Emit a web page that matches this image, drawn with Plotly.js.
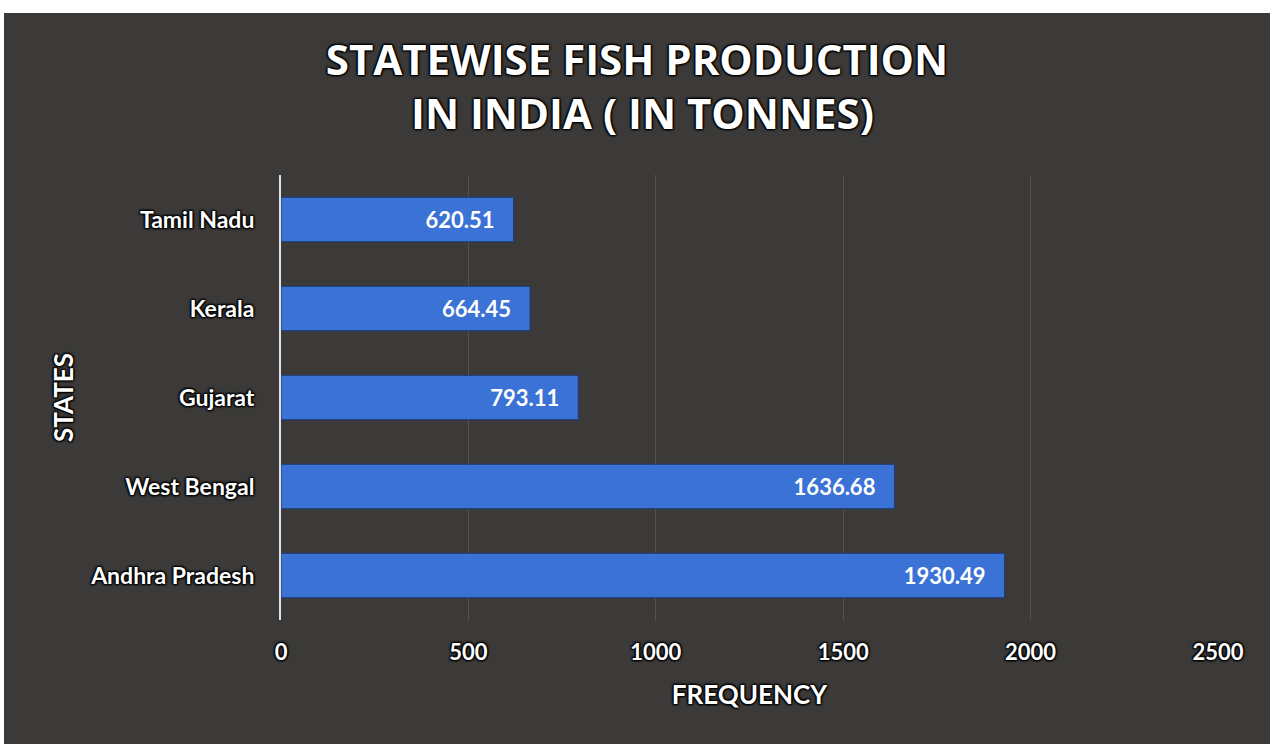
<!DOCTYPE html>
<html>
<head>
<meta charset="utf-8">
<script src="https://cdn.plot.ly/plotly-3.0.1.min.js"></script>
<style>
html,body{margin:0;padding:0;background:#ffffff;width:1270px;height:750px;overflow:hidden;}
#chart{position:absolute;left:4px;top:13px;width:1266px;height:731px;}
</style>
</head>
<body>
<div id="chart"></div>
<script>
const states = ["Andhra Pradesh", "West Bengal", "Gujarat", "Kerala", "Tamil Nadu"];
const production = [1930.49, 1636.68, 793.11, 664.45, 620.51];
const xTicks = [0, 500, 1000, 1500, 2000, 2500];

const shadow = "1px 1px 2px #000, -1px -1px 2px #000, 1px -1px 2px #000, -1px 1px 2px #000";
const plotTop = 162, plotH = 445;

const trace = {
  type: "bar",
  orientation: "h",
  y: states,
  x: production,
  marker: {color: "#3a72d6", line: {color: "#1d3a75", width: 1}},
  text: production.map(v => v.toFixed(2) + "\u00a0\u00a0\u00a0"),
  texttemplate: "%{text}",
  textposition: "inside",
  insidetextanchor: "end",
  textfont: {family: "Lato, 'Open Sans', sans-serif", size: 22, color: "#ffffff", weight: 700},
  hoverinfo: "skip",
  cliponaxis: false
};

const titleFont = {family: "'Open Sans', Lato, sans-serif", size: 42, color: "#ffffff", weight: 700, shadow: shadow};

const layout = {
  width: 1266,
  height: 731,
  paper_bgcolor: "#3b3a39",
  plot_bgcolor: "rgba(0,0,0,0)",
  margin: {l: 277, r: 52, t: plotTop, b: 124},
  bargap: 0.5,
  showlegend: false,
  title: {
    text: "STATEWISE FISH PRODUCTION",
    font: titleFont,
    x: 0.5, xanchor: "center", xref: "container",
    y: 1 - 47/731, yanchor: "middle", yref: "container"
  },
  annotations: [{
    text: "IN INDIA ( IN TONNES)",
    xref: "paper", yref: "paper", x: (642 - 281) / 937, y: 1 + (plotTop - 100) / plotH,
    xanchor: "center", yanchor: "middle", showarrow: false,
    font: titleFont
  }],
  xaxis: {
    range: [0, 2500],
    tickvals: xTicks,
    ticktext: xTicks.map(String),
    showgrid: true,
    gridcolor: "rgba(255,255,255,0.13)",
    gridwidth: 1,
    zeroline: false,
    showline: false,
    ticks: "",
    ticklabelstandoff: 17,
    tickfont: {family: "Lato, 'Open Sans', sans-serif", size: 22, color: "#ffffff", weight: 700, shadow: shadow},
    title: {text: "FREQUENCY", standoff: 21,
      font: {family: "Lato, 'Open Sans', sans-serif", size: 26, color: "#ffffff", weight: 700, shadow: shadow}}
  },
  yaxis: {
    showline: true,
    linecolor: "#e0e0e0",
    linewidth: 2,
    showgrid: false,
    ticks: "",
    ticklabelstandoff: 20,
    tickfont: {family: "Lato, 'Open Sans', sans-serif", size: 23, color: "#ffffff", weight: 700, shadow: shadow},
    title: {text: "STATES", standoff: 9,
      font: {family: "Lato, 'Open Sans', sans-serif", size: 26, color: "#ffffff", weight: 700, shadow: shadow}}
  }
};

Plotly.newPlot("chart", [trace], layout, {displayModeBar: false, staticPlot: true});
</script>
</body>
</html>
